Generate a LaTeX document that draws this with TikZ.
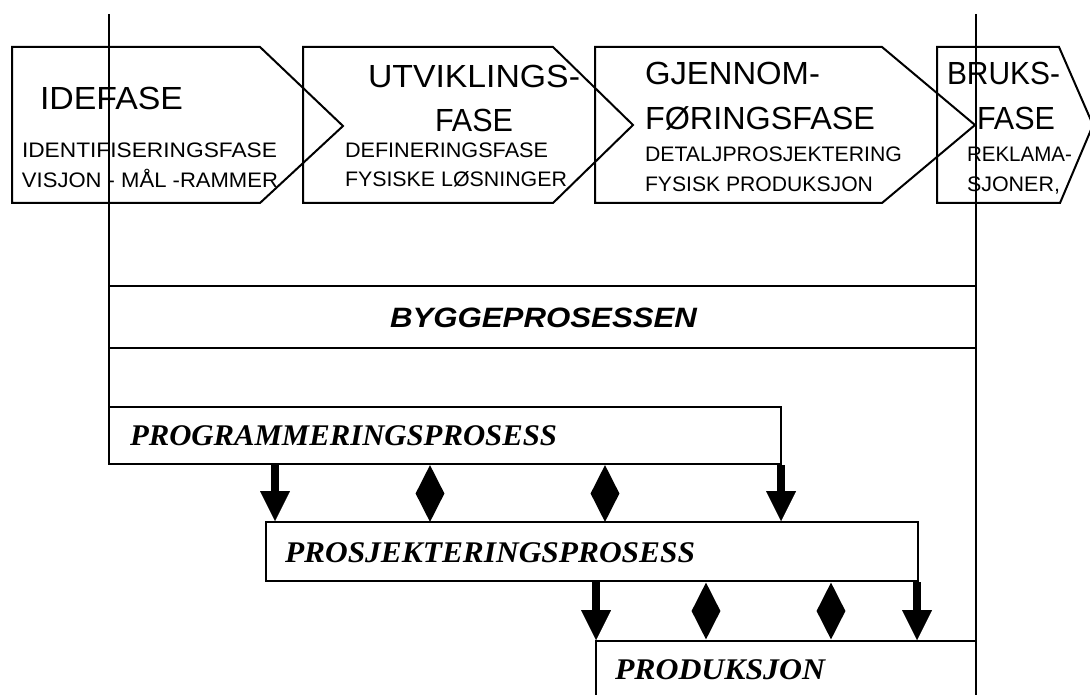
\documentclass[tikz,border=0pt]{standalone}
\usepackage{fontspec}
\usepackage{graphicx}
\setmainfont{Liberation Serif}
\newfontfamily\phfont{Liberation Sans}
\usetikzlibrary{arrows.meta,shapes.geometric}
\newcommand{\phtext}[3]{{\phfont\fontsize{#2}{#2}\selectfont\resizebox{#1pt}{\height}{#3}}}
\newcommand{\prtext}[2]{{\bfseries\itshape\fontsize{30}{30}\selectfont\resizebox{#1pt}{\height}{#2}}}
\tikzset{
  phase/.style={line width=2pt, line join=miter},
  lab/.style={anchor=base west, inner sep=0pt, outer sep=0pt},
  procbox/.style={draw, line width=2pt, rectangle, inner sep=0pt},
  thinline/.style={line width=2pt},
  bigarrow/.style={line width=8pt, -{Triangle[width=30pt,length=30pt,line width=0.01pt]}, shorten >=0pt},
  dia/.style={diamond, fill=black, draw=none, inner sep=0pt, minimum width=29pt, minimum height=57pt},
}
\begin{document}
\begin{tikzpicture}[x=1pt,y=-1pt]
\clip (0,0) rectangle (1090,695);
\fill[white] (0,0) rectangle (1090,695);

% phase boxes
\draw[phase] (12,47) -- (260,47) -- (343,126) -- (260,203) -- (12,203) -- cycle;
\draw[phase] (303,47) -- (553,47) -- (633,125) -- (553,203) -- (303,203) -- cycle;
\draw[phase] (595,47) -- (882,47) -- (975,125) -- (882,203) -- (595,203) -- cycle;
\draw[phase] (937,47) -- (1059,47) -- (1093,125) -- (1060,203) -- (937,203) -- cycle;

% phase texts
\node[lab] (t1a) at (40,110) {\phtext{143}{32}{IDEFASE}};
\node[lab] (t1b) at (22,158) {\phtext{255}{21}{IDENTIFISERINGSFASE}};
\node[lab] (t1c) at (22,188) {\phtext{256}{21}{VISJON - MÅL -RAMMER}};

\node[lab] (t2a) at (368,88) {\phtext{212}{32}{UTVIKLINGS-}};
\node[lab] (t2b) at (435,132) {\phtext{78}{32}{FASE}};
\node[lab] (t2c) at (345,158) {\phtext{203}{21}{DEFINERINGSFASE}};
\node[lab] (t2d) at (345,187) {\phtext{222}{21}{FYSISKE LØSNINGER}};

\node[lab] (t3a) at (645,85) {\phtext{175}{32}{GJENNOM-}};
\node[lab] (t3b) at (645,130) {\phtext{230}{32}{FØRINGSFASE}};
\node[lab] (t3c) at (645,162) {\phtext{257}{21}{DETALJPROSJEKTERING}};
\node[lab] (t3d) at (645,192) {\phtext{228}{21}{FYSISK PRODUKSJON}};

\node[lab] (t4a) at (947,85) {\phtext{113}{32}{BRUKS-}};
\node[lab] (t4b) at (977,130) {\phtext{78}{32}{FASE}};
\node[lab] (t4c) at (967,162) {\phtext{105}{21}{REKLAMA-}};
\node[lab] (t4d) at (967,192) {\phtext{93}{21}{SJONER,}};

% byggeprosessen band
\node[procbox, draw=none, minimum width=867pt, minimum height=60pt] (bygg) at (542.5,317) {};
\draw[thinline] (bygg.north west) -- (bygg.north east);
\draw[thinline] (bygg.south west) -- (bygg.south east);
\node[lab] (byggt) at (390,327) {{\phfont\bfseries\itshape\fontsize{28}{28}\selectfont\resizebox{307pt}{\height}{BYGGEPROSESSEN}}};

% process boxes
\node[procbox, minimum width=672pt, minimum height=57pt] (prog) at (445,435.5) {};
\node[lab] (progt) at (130,445) {\prtext{427}{PROGRAMMERINGSPROSESS}};
\node[procbox, minimum width=652pt, minimum height=59pt] (proj) at (592,551.5) {};
\node[lab] (projt) at (285,562) {\prtext{410}{PROSJEKTERINGSPROSESS}};
\node[procbox, minimum width=380pt, minimum height=79pt] (prod) at (786,680.5) {};
\node[lab] (prodt) at (615,679) {\prtext{210}{PRODUKSJON}};

% vertical lines
\coordinate (ltop) at (109,14);
\coordinate (rtop) at (976,14);
\coordinate (rbot) at (976,700);
\draw[thinline] (ltop) -- (ltop |- prog.south);
\draw[thinline] (rtop) -- (rbot);

% arrows and diamonds between programmering and prosjektering
\coordinate (a1) at (275,0);
\coordinate (a2) at (781,0);
\draw[bigarrow] (a1 |- prog.south) -- (a1 |- proj.north);
\draw[bigarrow] (a2 |- prog.south) -- (a2 |- proj.north);
\node[dia] (d1) at (430,493.5) {};
\node[dia] (d2) at (605,493.5) {};

% arrows and diamonds between prosjektering and produksjon
\coordinate (b1) at (596,0);
\coordinate (b2) at (917,0);
\draw[bigarrow] (b1 |- proj.south) -- (b1 |- prod.north);
\draw[bigarrow] (b2 |- proj.south) -- (b2 |- prod.north);
\node[dia] (d3) at (706,611) {};
\node[dia] (d4) at (831,611) {};
\end{tikzpicture}
\end{document}
